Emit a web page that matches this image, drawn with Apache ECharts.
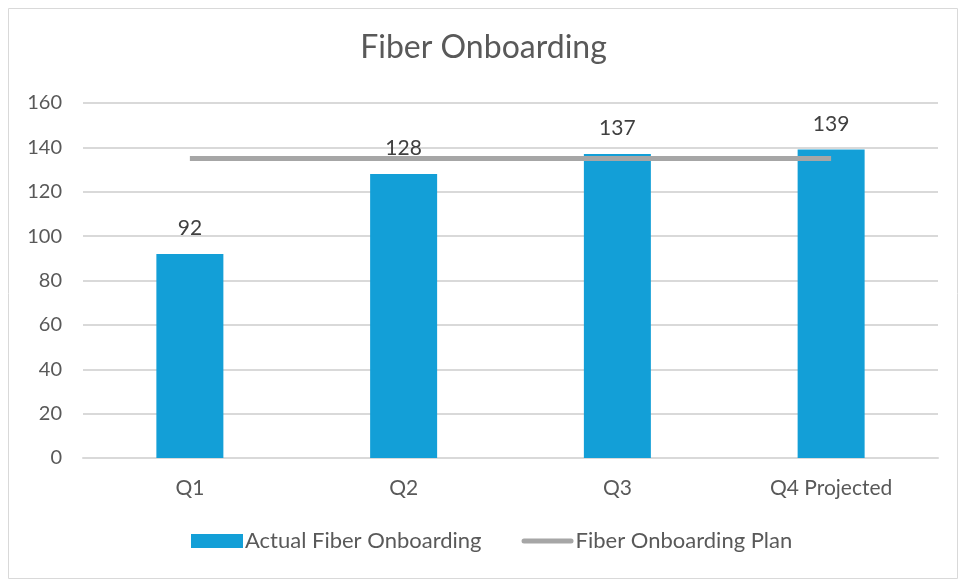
<!DOCTYPE html>
<html><head><meta charset="utf-8">
<script src="https://cdn.jsdelivr.net/npm/echarts@6/dist/echarts.min.js"></script>
<style>html,body{margin:0;padding:0;background:#fff}#c{width:967px;height:579px}</style>
</head><body><div id="c"></div>
<script>
const categories = ['Q1','Q2','Q3','Q4 Projected'];
const actualValues = [92,128,137,139];
const planValues = [135,135,135,135];
const yTicks = [0,20,40,60,80,100,120,140,160];

const chart = echarts.init(document.getElementById('c'));
const font = 'Lato, "Open Sans", sans-serif';
chart.setOption({
  animation:false,
  graphic:[{type:'rect',shape:{x:8.5,y:8.5,width:949,height:570},style:{fill:'none',stroke:'#d9d9d9',lineWidth:1}}],
  title:{text:'Fiber Onboarding',left:'center',top:27,textStyle:{fontFamily:font,fontSize:32,fontWeight:'normal',color:'#595959'}},
  grid:{left:83,right:29,top:103,bottom:121,containLabel:false},
  legend:{bottom:22,left:186,itemGap:40,itemWidth:52,itemHeight:14,symbolKeepAspect:true,
    textStyle:{fontFamily:font,fontSize:22,color:'#595959',padding:[0,0,0,-3]},
    data:[{name:'Actual Fiber Onboarding',icon:'rect'},
          {name:'Fiber Onboarding Plan',icon:'path://M2.5,0 h47 a2.5,2.5 0 0 1 0,5 h-47 a2.5,2.5 0 0 1 0,-5 z'}]},
  xAxis:{type:'category',data:categories,axisTick:{show:false},
    axisLine:{lineStyle:{color:'#d9d9d9',width:2}},
    axisLabel:{fontFamily:font,fontSize:21,color:'#595959',margin:20}},
  yAxis:{type:'value',min:yTicks[0],max:yTicks[yTicks.length-1],interval:20,
    axisLabel:{fontFamily:font,fontSize:20,color:'#595959',margin:21},
    splitLine:{lineStyle:{color:'#d9d9d9',width:2}},axisLine:{show:false},axisTick:{show:false}},
  series:[
    {name:'Actual Fiber Onboarding',type:'bar',data:actualValues,barWidth:67,
     itemStyle:{color:'#139fd7'},
     label:{show:true,position:'top',distance:15,fontFamily:font,fontSize:21,color:'#404040'}},
    {name:'Fiber Onboarding Plan',type:'line',data:planValues,symbol:'none',
     lineStyle:{color:'#a6a6a6',width:5},itemStyle:{color:'#a6a6a6'}}
  ]
});
</script></body></html>
